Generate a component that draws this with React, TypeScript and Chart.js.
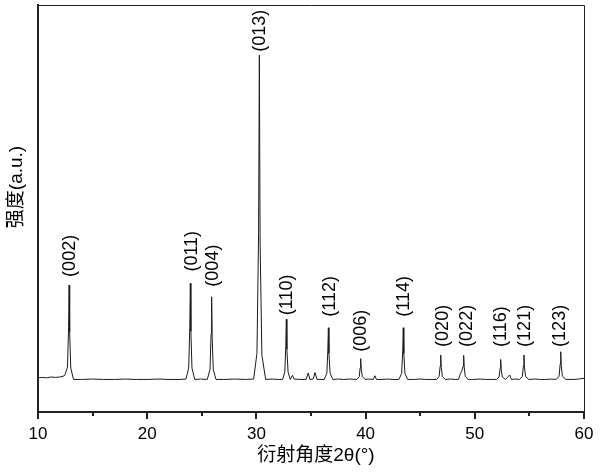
import React, { useEffect, useRef } from 'react';
import { Chart, registerables } from 'chart.js';

Chart.register(...registerables);

const twoTheta = [
  10.0, 10.4, 10.8, 11.2, 11.6, 12.0, 12.3,
  12.45, 12.7, 12.8, 12.85, 12.9, 13.0, 13.25,
  14.0, 15.0, 16.0, 17.0, 18.0, 19.0, 20.0, 21.0, 22.0, 23.0,
  23.55, 23.8, 23.9, 23.95, 24.0, 24.1, 24.35,
  24.9,
  25.5, 25.75, 25.85, 25.9, 25.95, 26.05, 26.3,
  27.0, 28.0, 29.0,
  29.75, 30.05, 30.2, 30.27, 30.34, 30.5, 30.85,
  31.5, 32.0,
  32.4, 32.6, 32.69, 32.74, 32.79, 32.9, 33.1,
  33.3, 33.45, 34.0, 34.55, 34.75, 34.9, 35.2, 35.37, 35.55,
  36.2, 36.45, 36.54, 36.59, 36.64, 36.75, 37.0,
  37.5, 38.0, 38.5,
  39.2, 39.42, 39.5, 39.55, 39.6, 39.7, 39.95,
  40.3, 40.7, 40.85, 41.0, 41.5, 42.0, 42.5,
  43.05, 43.3, 43.4, 43.45, 43.5, 43.6, 43.85,
  44.5, 45.0, 45.5, 46.0,
  46.5, 46.73, 46.83, 46.88, 46.93, 47.03, 47.3,
  47.8, 48.2,
  48.5, 48.7, 48.8, 48.92, 48.98, 49.03, 49.13, 49.4,
  49.8, 50.5, 51.0, 51.5,
  52.0, 52.22, 52.32, 52.37, 52.42, 52.52, 52.8,
  53.2, 53.35, 53.7,
  54.1, 54.35, 54.45, 54.5, 54.55, 54.65, 54.95,
  55.5, 56.0, 56.5, 57.0,
  57.45, 57.72, 57.82, 57.87, 57.92, 58.02, 58.35,
  59.0, 59.5, 60.0,
];

const intensity = [
  84, 85, 84, 86, 85, 86, 88,
  90, 110, 208, 312, 197, 108, 80,
  80, 81, 80, 80, 81, 80, 80, 81, 80, 80,
  81, 108, 210, 316, 198, 108, 80,
  81,
  80, 104, 192, 283, 182, 104, 80,
  80, 81, 80,
  81, 144, 439, 877, 415, 140, 80,
  81, 80,
  80, 98, 161, 228, 154, 98, 80,
  90, 81, 80, 80, 96, 80, 81, 97, 80,
  80, 95, 150, 207, 144, 95, 80,
  81, 80, 81,
  80, 87, 108, 131, 106, 87, 80,
  81, 80, 89, 80, 80, 81, 80,
  80, 95, 150, 207, 144, 95, 80,
  80, 81, 80, 80,
  80, 87, 113, 140, 110, 87, 80,
  81, 80,
  80, 95, 100, 112, 139, 110, 87, 80,
  80, 81, 80, 80,
  80, 86, 107, 129, 104, 86, 80,
  91, 80, 81,
  80, 87, 113, 140, 110, 87, 80,
  81, 80, 80, 81,
  80, 88, 118, 148, 114, 88, 80,
  80, 81, 83,
];

// Miller-index annotations
const peakLabels = ['(002)', '(011)', '(004)', '(013)', '(110)', '(112)', '(006)', '(114)', '(020)', '(022)', '(116)', '(121)', '(123)'];
const labelPos = [12.93, 24.07, 26.05, 30.33, 32.77, 36.74, 39.6, 43.54, 47.11, 49.25, 52.4, 54.57, 57.8];
const labelBase = [332, 345, 308, 885, 238, 234, 148, 234, 160, 160, 160, 160, 160];

const xMajorTicks = [10, 20, 30, 40, 50, 60];
const xMinorTicks = [15, 25, 35, 45, 55];
const xTitle = '衍射角度2θ(°)';
const yTitle = '强度(a.u.)';

export default function App() {
  const ref = useRef<HTMLCanvasElement>(null);

  useEffect(() => {
    if (!ref.current) return;
    const decor = {
      id: 'decor',
      afterDraw(chart: any) {
        const { ctx, chartArea: a, scales } = chart;
        const x = scales.x;
        const y = scales.y;
        ctx.save();
        ctx.strokeStyle = '#222';
        ctx.lineWidth = 1;
        ctx.beginPath();
        ctx.moveTo(a.left, Math.round(a.top) + 0.5);
        ctx.lineTo(Math.round(a.right) + 0.5, Math.round(a.top) + 0.5);
        ctx.lineTo(Math.round(a.right) + 0.5, a.bottom);
        ctx.stroke();

        ctx.lineWidth = 2;
        xMinorTicks.forEach((v) => {
          const px = Math.round(x.getPixelForValue(v));
          ctx.beginPath();
          ctx.moveTo(px, a.bottom);
          ctx.lineTo(px, a.bottom + 4);
          ctx.stroke();
        });

        ctx.fillStyle = '#000';
        ctx.font = "18px 'Liberation Sans', Arial, sans-serif";
        ctx.textAlign = 'left';
        ctx.textBaseline = 'middle';
        peakLabels.forEach((t, i) => {
          ctx.save();
          ctx.translate(x.getPixelForValue(labelPos[i]), y.getPixelForValue(labelBase[i]));
          ctx.rotate(-Math.PI / 2);
          ctx.fillText(t, 0, 0);
          ctx.restore();
        });

        ctx.font = "19px 'Liberation Sans', 'Noto Sans CJK SC', sans-serif";
        ctx.textAlign = 'center';
        ctx.textBaseline = 'middle';
        ctx.fillText(xTitle, (a.left + a.right) / 2 + 5, 456);

        ctx.save();
        ctx.translate(17, 187);
        ctx.rotate(-Math.PI / 2);
        ctx.fillText(yTitle, 0, 0);
        ctx.restore();

        ctx.restore();
      },
    };

    const chart = new Chart(ref.current, {
      type: 'line',
      data: {
        datasets: [
          {
            data: twoTheta.map((t, i) => ({ x: t, y: intensity[i] })),
            borderColor: '#1a1a1a',
            borderWidth: 1,
            pointRadius: 0,
            tension: 0,
            fill: false,
          },
        ],
      },
      options: {
        responsive: false,
        animation: false,
        layout: { padding: { top: 5, right: 16, left: 0, bottom: 0 } },
        plugins: { legend: { display: false }, tooltip: { enabled: false } },
        scales: {
          x: {
            type: 'linear',
            min: 10,
            max: 60,
            afterBuildTicks: (scale: any) => {
              scale.ticks = xMajorTicks.map((v) => ({ value: v }));
            },
            afterFit: (scale: any) => {
              scale.height = 63;
            },
            ticks: {
              autoSkip: false,
              maxRotation: 0,
              padding: 5,
              color: '#000',
              font: { family: "'Liberation Sans', Arial, sans-serif", size: 17 },
            },
            grid: {
              drawOnChartArea: false,
              drawTicks: true,
              tickLength: 7,
              lineWidth: 2,
              color: '#222',
            },
            border: { display: true, width: 2, color: '#222' },
          },
          y: {
            type: 'linear',
            min: 0,
            max: 1000,
            afterFit: (scale: any) => {
              scale.width = 38;
            },
            ticks: { display: false },
            grid: { display: true, drawOnChartArea: false, drawTicks: false },
            border: { display: true, width: 2, color: '#222' },
          },
        },
      },
      plugins: [decor],
    });

    return () => chart.destroy();
  }, []);

  return (
    <div style={{ position: 'absolute', left: 0, top: 0, width: 600, height: 475, background: '#fff' }}>
      <canvas ref={ref} width={600} height={475} style={{ display: 'block' }} />
    </div>
  );
}
